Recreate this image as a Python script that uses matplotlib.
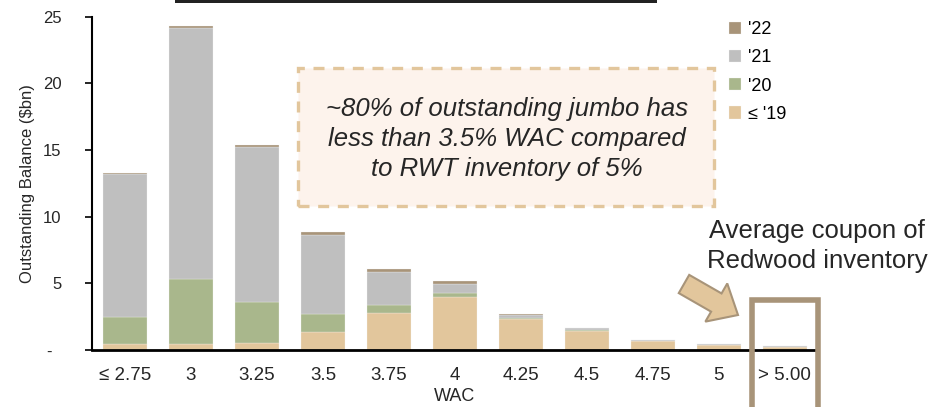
import numpy as np
import matplotlib
matplotlib.use("Agg")
import matplotlib.pyplot as plt
from matplotlib.patches import Rectangle, FancyArrow

plt.rcParams['font.family'] = ['Liberation Sans', 'DejaVu Sans']

# data ($bn)
wac_labels = ['≤ 2.75', '3', '3.25', '3.5', '3.75', '4', '4.25', '4.5', '4.75', '5', '> 5.00']
y19 = [0.45, 0.45, 0.50, 1.33, 2.75, 3.98, 2.35, 1.43, 0.70, 0.38, 0.25]
y20 = [2.03, 4.90, 3.10, 1.37, 0.65, 0.30, 0.07, 0.05, 0.00, 0.00, 0.00]
y21 = [10.70, 18.80, 11.60, 5.93, 2.48, 0.70, 0.20, 0.15, 0.03, 0.07, 0.03]
y22 = [0.12, 0.15, 0.14, 0.22, 0.17, 0.17, 0.05, 0.03, 0.00, 0.00, 0.00]

c19, c20, c21, c22 = '#E2C69C', '#A9B78C', '#BFBFBF', '#A89479'
txt = '#262626'

fig = plt.figure(figsize=(9.39, 4.07), dpi=100)
ax = fig.add_axes([0.098, 0.140, 0.773, 0.819])
ax.set_facecolor('none')

x = np.arange(len(wac_labels))
w = 0.667
b = np.zeros(len(x))
for vals, col, lab in [(y19, c19, "≤ '19"), (y20, c20, "'20"), (y21, c21, "'21"), (y22, c22, "'22")]:
    ax.bar(x, vals, w, bottom=b, color=col, label=lab, edgecolor='#F4F4F4', linewidth=0.2)
    b = b + np.array(vals)

ax.set_xlim(-0.5, 10.5)
ax.set_ylim(0, 25)
ax.set_yticks([0, 5, 10, 15, 20, 25])
ax.set_yticklabels(['-  ', '5', '10', '15', '20', '25'], fontsize=12, color=txt)
ax.set_xticks(x)
ax.set_xticklabels(wac_labels, fontsize=13.5, color=txt)
ax.tick_params(axis='x', length=0, pad=12)
ax.tick_params(axis='y', length=5, width=1.2, direction='out', pad=17)
for s in ['top', 'right']:
    ax.spines[s].set_visible(False)
ax.spines['left'].set_linewidth(1.5)
ax.spines['bottom'].set_linewidth(2)
ax.set_xlabel('WAC', fontsize=13, color=txt, labelpad=3)
ax.set_ylabel('Outstanding Balance ($bn)', fontsize=12, color=txt, labelpad=6)

h, l = ax.get_legend_handles_labels()
ax.legend(h[::-1], l[::-1], loc='upper left', bbox_to_anchor=(0.855, 1.035), frameon=False,
          fontsize=13, handlelength=0.65, handleheight=0.65, handletextpad=0.4, labelspacing=0.62)

# callout box
fig.patches.append(Rectangle((298 / 939, 1 - 206 / 407), 416 / 939, 138 / 407, transform=fig.transFigure,
                             facecolor='#FDF3EC', edgecolor=c19, linewidth=2.4, linestyle=(0, (3.3, 2.6)),
                             zorder=-1))
fig.text(507 / 939, 1 - 139 / 407,
         '~80% of outstanding jumbo has\nless than 3.5% WAC compared\nto RWT inventory of 5%',
         ha='center', va='center', fontsize=18.5, style='italic', color=txt, linespacing=1.32)

fig.text(817 / 939, 1 - 246 / 407, 'Average coupon of\nRedwood inventory', ha='center', va='center',
         fontsize=18.5, color=txt, linespacing=1.3)

# highlight frame around last category
fig.patches.append(Rectangle((752 / 939, -0.05), 66 / 939, (407 - 300) / 407 + 0.05, transform=fig.transFigure,
                             facecolor='none', edgecolor=c22, linewidth=4, zorder=3))

# block arrow (inches)
tx, ty = 6.84, 4.07 - 2.84
hx, hy = 7.38, 4.07 - 3.15
fig.patches.append(FancyArrow(tx, ty, hx - tx, hy - ty, width=0.21, head_width=0.44, head_length=0.25,
                              length_includes_head=True, transform=fig.dpi_scale_trans,
                              facecolor=c19, edgecolor=c22, linewidth=1.5, zorder=3))

# cropped title bar at top
fig.patches.append(Rectangle((175 / 939, 1 - 3 / 407), 482 / 939, 4 / 407, transform=fig.transFigure,
                             facecolor='#222222', edgecolor='none'))

fig.savefig('out.png', dpi=100)
